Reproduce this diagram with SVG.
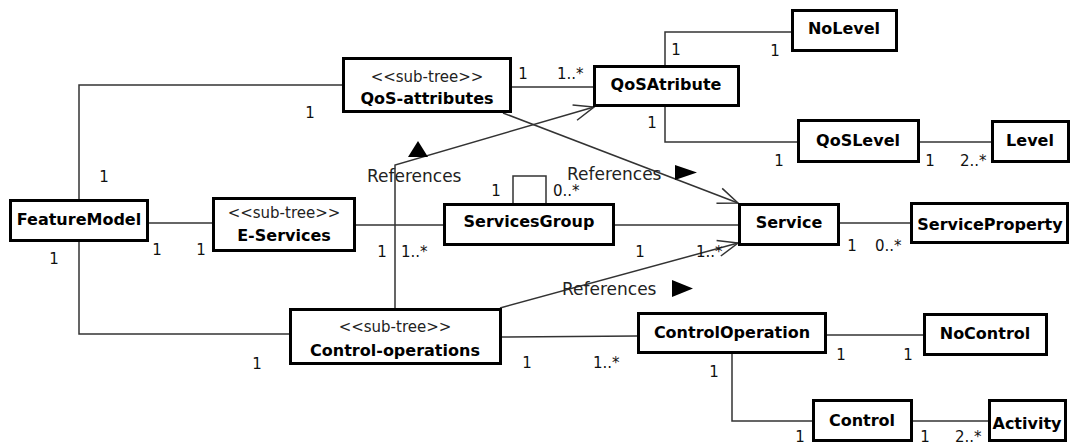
<svg xmlns="http://www.w3.org/2000/svg" width="1072" height="446" viewBox="0 0 1072 446">
  <style>
    .box { fill: #ffffff; stroke: #000000; stroke-width: 3; }
    .name { font-family: "DejaVu Sans", "Liberation Sans", sans-serif; font-weight: bold; font-size: 16px; fill: #000000; text-anchor: middle; }
    .stereo { font-family: "DejaVu Sans", "Liberation Sans", sans-serif; font-size: 15px; fill: #222222; text-anchor: middle; }
    .edge { fill: none; stroke: #333333; stroke-width: 1.5; }
    .ref { fill: none; stroke: #333333; stroke-width: 1.5; marker-end: url(#open); }
    .mult { font-family: "DejaVu Sans", "Liberation Sans", sans-serif; font-size: 15px; fill: #111111; }
    .c { text-anchor: middle; }
    .reflabel { font-family: "DejaVu Sans", "Liberation Sans", sans-serif; font-size: 17px; fill: #222222; }
    .tri { fill: #000000; }
  </style>
  <defs>
    <marker id="open" markerUnits="userSpaceOnUse" viewBox="-22 -10 24 20" refX="0" refY="0" markerWidth="24" markerHeight="20" orient="auto" overflow="visible">
      <path d="M-20,-8 L0,0 L-20,8" fill="none" stroke="#333333" stroke-width="1.5"/>
    </marker>
  </defs>
  <rect width="1072" height="446" fill="#ffffff"/>

  <!-- connectors -->
  <g id="connectors">
    <polyline class="edge" points="79,199 79,85 342,85"/>
    <line class="edge" x1="149" y1="223" x2="212" y2="223"/>
    <polyline class="edge" points="79,242 79,334 289,334"/>
    <line class="edge" x1="512" y1="87" x2="593" y2="87"/>
    <polyline class="edge" points="665,65 665,32 791,32"/>
    <polyline class="edge" points="665,107 665,142 797,142"/>
    <line class="edge" x1="920" y1="142" x2="991" y2="142"/>
    <line class="edge" x1="356" y1="225" x2="443" y2="225"/>
    <line class="edge" x1="615" y1="225" x2="738" y2="225"/>
    <polyline class="edge" points="513,203 513,176 546,176 546,203"/>
    <line class="edge" x1="840" y1="223" x2="910" y2="223"/>
    <line class="edge" x1="502" y1="337" x2="637" y2="336"/>
    <line class="edge" x1="827" y1="335" x2="923" y2="335"/>
    <polyline class="edge" points="732,354 732,421 812,421"/>
    <line class="edge" x1="913" y1="421" x2="988" y2="421"/>
    <!-- "References" dependencies -->
    <polyline class="ref" points="395,308 395,165 594,107"/>
    <line class="ref" x1="503" y1="113" x2="738" y2="203"/>
    <line class="ref" x1="500" y1="308" x2="738" y2="243"/>
    <polygon class="tri" points="408,157 428,157 418,141"/>
    <polygon class="tri" points="675,165 675,180 697,172.5"/>
    <polygon class="tri" points="672,280 672,297 693,288.5"/>
    <text class="reflabel" x="367" y="182">References</text>
    <text class="reflabel" x="567" y="180">References</text>
    <text class="reflabel" x="562" y="295">References</text>
    <!-- multiplicities -->
    <text class="mult c" x="104" y="182">1</text>
    <text class="mult c" x="310" y="118">1</text>
    <text class="mult c" x="157" y="255">1</text>
    <text class="mult c" x="201" y="255">1</text>
    <text class="mult c" x="54" y="264">1</text>
    <text class="mult c" x="257" y="369">1</text>
    <text class="mult c" x="523" y="79">1</text>
    <text class="mult" x="557" y="79">1..*</text>
    <text class="mult c" x="676" y="55">1</text>
    <text class="mult c" x="775" y="56">1</text>
    <text class="mult c" x="652" y="128">1</text>
    <text class="mult c" x="779" y="166">1</text>
    <text class="mult c" x="930" y="166">1</text>
    <text class="mult" x="960" y="166">2..*</text>
    <text class="mult c" x="496" y="196">1</text>
    <text class="mult" x="553" y="196">0..*</text>
    <text class="mult c" x="382" y="257">1</text>
    <text class="mult" x="401" y="257">1..*</text>
    <text class="mult c" x="640" y="257">1</text>
    <text class="mult" x="696" y="257">1..*</text>
    <text class="mult c" x="852" y="251">1</text>
    <text class="mult" x="875" y="251">0..*</text>
    <text class="mult c" x="527" y="368">1</text>
    <text class="mult" x="593" y="368">1..*</text>
    <text class="mult c" x="841" y="360">1</text>
    <text class="mult c" x="908" y="360">1</text>
    <text class="mult c" x="714" y="377">1</text>
    <text class="mult c" x="800" y="442">1</text>
    <text class="mult c" x="925" y="442">1</text>
    <text class="mult" x="955" y="442">2..*</text>
  </g>

  <!-- classes -->
  <g id="FeatureModel">
    <rect class="box" x="10.5" y="200.5" width="137" height="40"/>
    <text class="name" x="79" y="225">FeatureModel</text>
  </g>
  <g id="E-Services">
    <rect class="box" x="213.5" y="198.5" width="141" height="52"/>
    <text class="stereo" x="284" y="218">&lt;&lt;sub-tree&gt;&gt;</text>
    <text class="name" x="284" y="241">E-Services</text>
  </g>
  <g id="QoS-attributes">
    <rect class="box" x="343.5" y="58.5" width="167" height="53"/>
    <text class="stereo" x="427" y="82">&lt;&lt;sub-tree&gt;&gt;</text>
    <text class="name" x="427" y="104">QoS-attributes</text>
  </g>
  <g id="QoSAtribute">
    <rect class="box" x="594.5" y="66.5" width="144" height="39"/>
    <text class="name" x="666" y="90">QoSAtribute</text>
  </g>
  <g id="NoLevel">
    <rect class="box" x="792.5" y="10.5" width="104" height="40"/>
    <text class="name" x="844" y="34">NoLevel</text>
  </g>
  <g id="QoSLevel">
    <rect class="box" x="798.5" y="120.5" width="120" height="41"/>
    <text class="name" x="858" y="146">QoSLevel</text>
  </g>
  <g id="Level">
    <rect class="box" x="992.5" y="121.5" width="76" height="40"/>
    <text class="name" x="1030" y="146">Level</text>
  </g>
  <g id="ServicesGroup">
    <rect class="box" x="444.5" y="204.5" width="169" height="40"/>
    <text class="name" x="529" y="227">ServicesGroup</text>
  </g>
  <g id="Service">
    <rect class="box" x="739.5" y="204.5" width="99" height="40"/>
    <text class="name" x="789" y="228">Service</text>
  </g>
  <g id="ServiceProperty">
    <rect class="box" x="911.5" y="203.5" width="156" height="39"/>
    <text class="name" x="990" y="230">ServiceProperty</text>
  </g>
  <g id="Control-operations">
    <rect class="box" x="290.5" y="309.5" width="210" height="54"/>
    <text class="stereo" x="395" y="332">&lt;&lt;sub-tree&gt;&gt;</text>
    <text class="name" x="395" y="356">Control-operations</text>
  </g>
  <g id="ControlOperation">
    <rect class="box" x="638.5" y="313.5" width="187" height="39"/>
    <text class="name" x="732" y="338">ControlOperation</text>
  </g>
  <g id="NoControl">
    <rect class="box" x="924.5" y="314.5" width="122" height="40"/>
    <text class="name" x="985" y="339">NoControl</text>
  </g>
  <g id="Control">
    <rect class="box" x="813.5" y="400.5" width="98" height="40"/>
    <text class="name" x="862" y="426">Control</text>
  </g>
  <g id="Activity">
    <rect class="box" x="989.5" y="400.5" width="76" height="40"/>
    <text class="name" x="1027" y="429">Activity</text>
  </g>
</svg>
